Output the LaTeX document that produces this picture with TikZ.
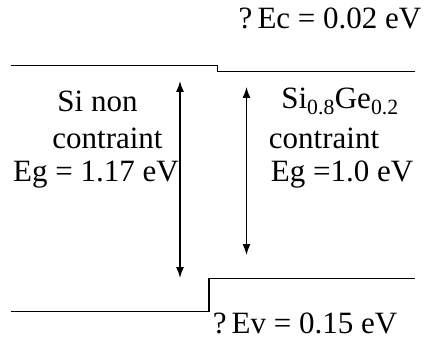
\documentclass[tikz,border=0pt]{standalone}
\usepackage{fontspec}
\setmainfont{Liberation Serif}
\usetikzlibrary{arrows.meta}
\begin{document}
\begin{tikzpicture}[x=1pt,y=-1pt,
  lbl/.style={font=\fontsize{31}{36}\selectfont, inner sep=0pt, anchor=center},
  level/.style={line width=1.6pt},
  gap/.style={line width=1.3pt, {Latex[length=11pt,width=8pt]}-{Latex[length=11pt,width=8pt]}}]
\useasboundingbox (0,0) rectangle (435,347);
% conduction band
\coordinate (c1) at (11,65.5);
\coordinate (c2) at (217.5,65.5);
\coordinate (c3) at (217.5,71.5);
\coordinate (c4) at (415,71.5);
\draw[level] (c1) -- (c2) -- (c3) -- (c4);
% valence band
\coordinate (v1) at (11,311.5);
\coordinate (v2) at (209,311.5);
\coordinate (v3) at (209,278.5);
\coordinate (v4) at (415,278.5);
\draw[level] (v1) -- (v2) -- (v3) -- (v4);
% gap arrows
\coordinate (a1t) at (180,81);
\coordinate (a1b) at (180,278);
\coordinate (a2t) at (246.5,87);
\coordinate (a2b) at (246.5,255);
\draw[gap] (a1t) -- (a1b);
\draw[gap] (a2t) -- (a2b);
% labels
\node[lbl] (ec) at (330,18) {?\,Ec = 0.02 eV};
\node[lbl] (si1) at (97.5,101) {Si non};
\node[lbl] (si2) at (107.5,138) {contraint};
\node[lbl] (si3) at (96,175) {Eg = 1.17 eV};
\node[lbl] (sg1) at (340,101) {Si\textsubscript{0.8}Ge\textsubscript{0.2}};
\node[lbl] (sg2) at (324,138) {contraint};
\node[lbl] (sg3) at (342,175) {Eg =1.0 eV};
\node[lbl] (ev) at (305,323) {?\,Ev = 0.15 eV};
\end{tikzpicture}
\end{document}
